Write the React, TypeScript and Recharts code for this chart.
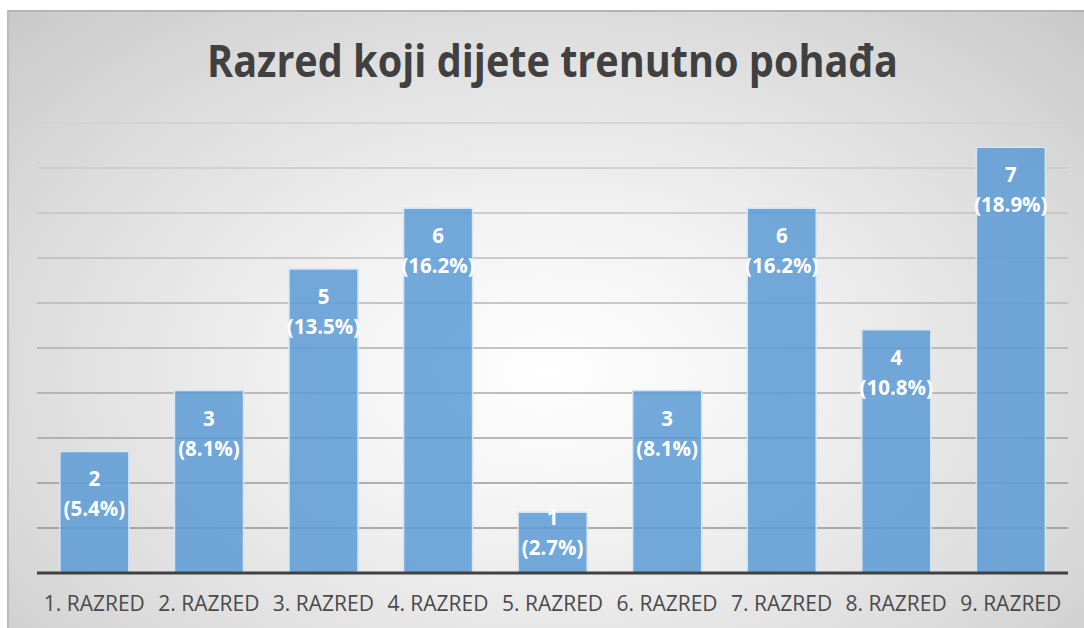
import React from "react";
import { BarChart, Bar, XAxis, YAxis, CartesianGrid, LabelList } from "recharts";

const title = "Razred koji dijete trenutno pohađa";
const categories = [
  "1. RAZRED",
  "2. RAZRED",
  "3. RAZRED",
  "4. RAZRED",
  "5. RAZRED",
  "6. RAZRED",
  "7. RAZRED",
  "8. RAZRED",
  "9. RAZRED",
];
const counts = [2, 3, 5, 6, 1, 3, 6, 4, 7];
const percentLabels = ["5.4%", "8.1%", "13.5%", "16.2%", "2.7%", "8.1%", "16.2%", "10.8%", "18.9%"];
// gridlines every 2% of 37 answers (0% .. 20%)
const gridTicks = [0, 0.74, 1.48, 2.22, 2.96, 3.7, 4.44, 5.18, 5.92, 6.66, 7.4];

const data = categories.map((name, i) => ({ name, count: counts[i], pct: percentLabels[i] }));

const FONT = '"Open Sans", "DejaVu Sans", sans-serif';

const renderLabel = (props: any) => {
  const { x, y, width, height, index } = props;
  const base = y + height;
  const cx = x + width / 2;
  const l1 = Math.min(y + 28, base - 55);
  const l2 = l1 + 30;
  return (
    <g key={`lbl-${index}`}>
      <text x={cx} y={l1 + 7} textAnchor="middle" fill="#ffffff" fontSize={20.5} fontWeight={700} fontFamily={FONT}>
        {counts[index]}
      </text>
      <text x={cx} y={l2 + 7} textAnchor="middle" fill="#ffffff" fontSize={20.5} fontWeight={700} fontFamily={FONT}>
        {`(${percentLabels[index]})`}
      </text>
    </g>
  );
};

export default function App() {
  return (
    <div style={{ position: "absolute", left: 0, top: 0, width: 1084, height: 628, overflow: "hidden", background: "#ffffff" }}>
      <div
        style={{
          position: "absolute",
          left: 7,
          top: 10,
          width: 1100,
          height: 640,
          boxSizing: "border-box",
          borderTop: "2px solid #b4b4b4",
          borderLeft: "2px solid #bcbcbc",
          background:
            "radial-gradient(ellipse 70% 80% at 538px 360px, #ffffff 0%, #f3f3f3 30%, #dcdcdc 70%, #c9c9c9 100%)",
        }}
      />
      <svg width={1084} height={110} style={{ position: "absolute", left: 0, top: 0 }}>
        <text
          x={552.5}
          y={77}
          textAnchor="middle"
          fill="#404040"
          fontSize={44}
          fontWeight={700}
          fontFamily={FONT}
          textLength={691}
          lengthAdjust="spacingAndGlyphs"
        >
          {title}
        </text>
      </svg>
      <div style={{ position: "absolute", left: 0, top: 0 }}>
        <BarChart
          width={1084}
          height={628}
          data={data}
          margin={{ top: 123, right: 16, bottom: 15, left: 37 }}
          barCategoryGap="20%"
          style={{ fontFamily: FONT }}
        >
          <defs>
            <linearGradient id="gridGrad" gradientUnits="userSpaceOnUse" x1="0" y1="120" x2="0" y2="575">
              <stop offset="0%" stopColor="#d2d2d2" />
              <stop offset="100%" stopColor="#8c8c8c" />
            </linearGradient>
          </defs>
          <CartesianGrid vertical={false} stroke="url(#gridGrad)" strokeWidth={1.5} />
          <YAxis hide domain={[0, 7.4]} ticks={gridTicks} />
          <XAxis
            dataKey="name"
            interval={0}
            tickLine={false}
            axisLine={{ stroke: "#404040", strokeWidth: 3 }}
            tickMargin={17}
            height={40}
            tick={{ fill: "#4a4a4a", fontSize: 21, fontFamily: FONT }}
          />
          <Bar
            dataKey="count"
            fill="#5b9bd5"
            fillOpacity={0.85}
            stroke="#d4e5f5"
            strokeWidth={1.5}
            isAnimationActive={false}
          >
            <LabelList dataKey="count" content={renderLabel} />
          </Bar>
        </BarChart>
      </div>
    </div>
  );
}
